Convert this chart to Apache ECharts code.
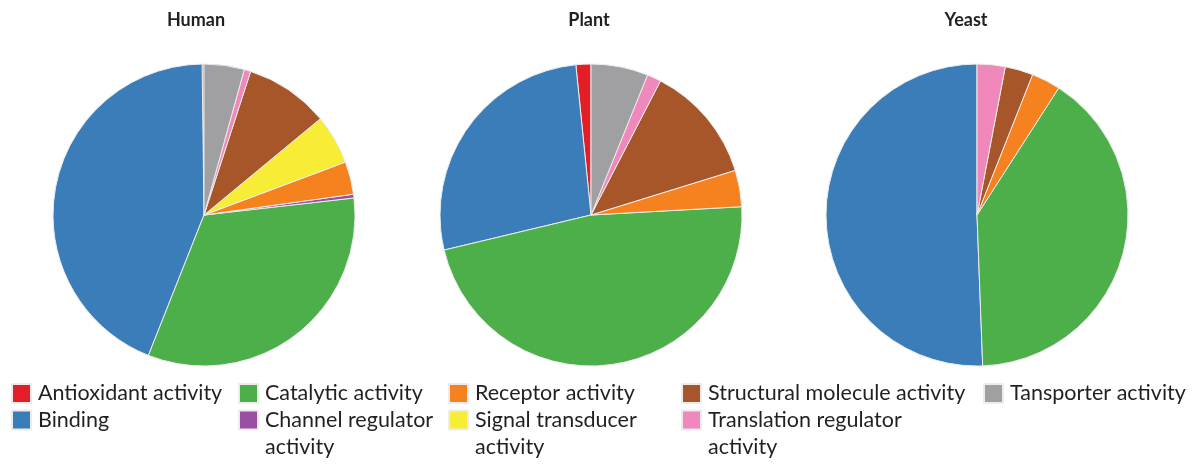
<!DOCTYPE html>
<html>
<head>
<meta charset="utf-8">
<title>Molecular function distribution</title>
<script src="https://cdn.jsdelivr.net/npm/echarts@6/dist/echarts.min.js"></script>
<style>
  html, body { margin: 0; padding: 0; background: #ffffff; }
  #chart { width: 1198px; height: 465px; }
</style>
</head>
<body>
<div id="chart"></div>
<script>
// Molecular-function categories (legend order, drawn counter-clockwise from 12 o'clock)
const categories = [
  'Antioxidant activity',
  'Binding',
  'Catalytic activity',
  'Channel regulator activity',
  'Receptor activity',
  'Signal transducer activity',
  'Structural molecule activity',
  'Translation regulator activity',
  'Tansporter activity'
];

// Percentage share of each category per organism
const organisms = ['Human', 'Plant', 'Yeast'];
const human = [0.2, 43.8, 32.8, 0.4, 3.5, 5.3, 9.0, 0.7, 4.3];
const plant = [1.6, 27.1, 47.1, 0, 3.9, 0, 12.6, 1.5, 6.1];
const yeast = [0, 50.6, 40.3, 0, 3.1, 0, 3.0, 3.0, 0];

const colors = ['#e41e26', '#3a7db8', '#4daf4a', '#984ea3', '#f5821f',
                '#f7ec36', '#a65628', '#f088bb', '#a0a0a3'];

// Long legend labels wrap onto a second line; the leading blank line keeps
// the swatch level with the first line of text.
const legendLabels = {
  'Channel regulator activity': ' \nChannel regulator\nactivity',
  'Signal transducer activity': ' \nSignal transducer\nactivity',
  'Translation regulator activity': ' \nTranslation regulator\nactivity'
};

const FONT = 'Lato, "Open Sans", sans-serif';
const LH = 27;        // legend line height
const ICON = 19;      // legend swatch size

// Legend grid: swatch x of each column, swatch centre y of each row
const legendCols = [11, 238, 448, 681, 983];
const legendRows = [393.5, 420];
const legendSlots = [[0, 0], [0, 1], [1, 0], [1, 1], [2, 0], [2, 1], [3, 0], [3, 1], [4, 0]];

const pieCenters = [204, 591, 977];
const titleCenters = [196, 589, 966];
const valueSets = [human, plant, yeast];

const chart = echarts.init(document.getElementById('chart'), null, { renderer: 'canvas' });

const series = organisms.map((org, k) => ({
  name: org,
  type: 'pie',
  center: [pieCenters[k], 215],
  radius: [0, 151],
  startAngle: 90,
  clockwise: false,
  label: { show: false },
  labelLine: { show: false },
  itemStyle: { borderColor: '#ececec', borderWidth: 1 },
  emphasis: { scale: false },
  data: categories
    .map((c, i) => ({ name: c, value: valueSets[k][i], itemStyle: { color: colors[i] } }))
    .filter(d => d.value > 0)
}));

const titles = organisms.map((org, k) => ({
  text: org,
  left: titleCenters[k],
  top: 11,
  textAlign: 'center',
  padding: 0,
  textStyle: { fontFamily: FONT, fontWeight: 'bold', fontSize: 18, color: '#231f20' }
}));

const legends = categories.map((c, i) => {
  const wrapped = !!legendLabels[c];
  const [col, row] = legendSlots[i];
  const half = wrapped ? 1.5 * LH : Math.max(ICON / 2, LH / 2);
  return {
    show: true,
    orient: 'vertical',
    left: legendCols[col],
    top: legendRows[row] - half,
    padding: 0,
    itemWidth: ICON,
    itemHeight: ICON,
    icon: 'rect',
    formatter: name => legendLabels[name] || name,
    data: [{ name: c, itemStyle: { color: colors[i] } }],
    textStyle: {
      fontFamily: FONT, fontSize: 21.5, color: '#231f20', lineHeight: LH,
      padding: [0, 0, 0, 2]
    }
  };
});

chart.setOption({
  backgroundColor: '#ffffff',
  animation: false,
  color: colors,
  title: titles,
  legend: legends,
  tooltip: { trigger: 'item', formatter: '{a}<br/>{b}: {c}%' },
  series: series
});
</script>
</body>
</html>
